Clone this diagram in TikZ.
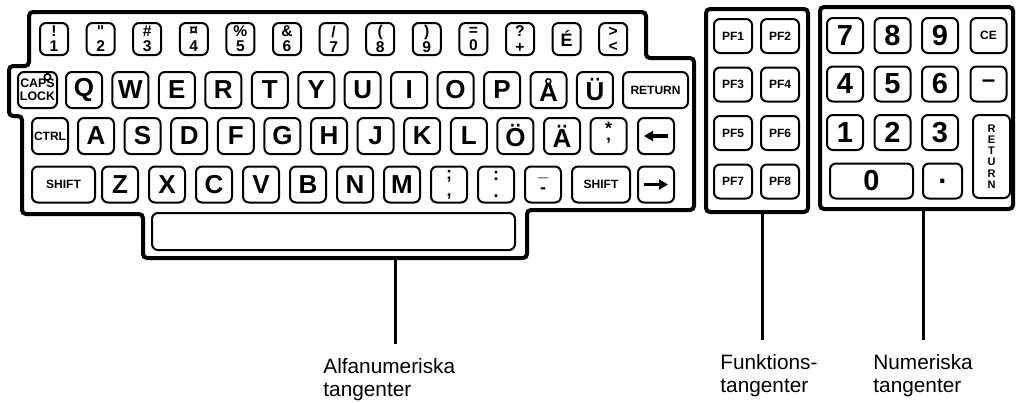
\documentclass[tikz,border=0pt]{standalone}
\usepackage{fontspec}
\setmainfont{Liberation Sans}
\usetikzlibrary{arrows.meta}

\tikzset{
  kbkey/.style={draw, line width=1pt, rounded corners=3pt, inner sep=0pt, align=center,
    minimum width=18pt, minimum height=18pt, font=\bfseries\fontsize{13}{13}\selectfont},
  digkey/.style={kbkey, minimum width=14pt, minimum height=16pt,
    font=\bfseries\fontsize{7.8}{7.6}\selectfont},
  smallkey/.style={kbkey, font=\bfseries\fontsize{6}{6.5}\selectfont},
  padkey/.style={kbkey, minimum height=17.5pt, font=\bfseries\fontsize{14.5}{14.5}\selectfont},
  block/.style={draw, line width=2pt, rounded corners=2pt, inner sep=0pt},
  leader/.style={line width=1.5pt},
  tagtext/.style={align=left, inner xsep=0pt, inner ysep=7pt, anchor=north west,
    font=\fontsize{10.4}{11.5}\selectfont},
  keyarrow/.style={line width=1.6pt, -{Triangle[length=4.5pt,width=5pt]}},
}

\begin{document}
\begin{tikzpicture}[x=0.5pt, y=-0.5pt]
  \useasboundingbox (0,0) rectangle (1017,402);
  % main keyboard outline
  \draw[line width=2pt, rounded corners=2pt]
    (29,12) -- (646,12) -- (646,58) -- (694,58) -- (694,210) -- (527,210)
    -- (527,258) -- (143,258) -- (143,214) -- (22,214) -- (22,116)
    -- (9,116) -- (9,66) -- (29,66) -- cycle;
  \coordinate (alfaend) at (395,258);

  % number row
  \foreach \s/\d [count=\i from 0] in {!/1,\textquotedbl/2,\#/3,¤/4,\%/5,\&/6,{/}/7,{(}/8,{)}/9,=/0,?/+}
    \node[digkey] (num-\i) at ({54+46.6*\i},39) {\s\\\d};
  \node[digkey, font=\bfseries\fontsize{9}{9}\selectfont] (num-11) at ({54+46.6*11},39) {É};
  \node[digkey] (num-12) at ({54+46.6*12},39) {>\\<};

  % second row
  \node[smallkey, minimum width=19.5pt, font=\bfseries\fontsize{6.2}{6.6}\selectfont]
    (caps) at (37.5,90) {CAPS\\LOCK};
  \draw[line width=0.8pt] ([xshift=5pt,yshift=6.5pt]caps.center) circle (1.6pt);
  \foreach \k [count=\i from 0] in {Q,W,E,R,T,Y,U,I,O,P,Å,Ü}
    \node[kbkey] (q-\i) at ({84+46.45*\i},90) {\k};
  \node[smallkey, minimum width=32.5pt] (ret) at (655.5,90) {RETURN};

  % third row
  \node[smallkey] (ctrl) at (50,136) {CTRL};
  \foreach \k [count=\i from 0] in {A,S,D,F,G,H,J,K,L,Ö,Ä}
    \node[kbkey] (a-\i) at ({96+46.6*\i},136) {\k};
  \node[kbkey, font=\bfseries\fontsize{9}{8}\selectfont] (a-11) at ({96+46.6*11},136) {*\\'};
  \node[kbkey] (larr) at (656,136) {};
  \draw[keyarrow] ([xshift=-3.5pt]larr.east) -- ([xshift=3.5pt]larr.west);

  % fourth row
  \node[smallkey, minimum width=31.5pt] (lshift) at (63.5,184.5) {SHIFT};
  \foreach \k [count=\i from 0] in {Z,X,C,V,B,N,M}
    \node[kbkey] (z-\i) at ({120+47*\i},184.5) {\k};
  \foreach \s/\d [count=\i from 7] in {;/{,},:/.,\_/-}
    \node[kbkey, font=\bfseries\fontsize{9}{8.5}\selectfont] (z-\i) at ({120+47*\i},184.5) {\s\\\d};
  \node[smallkey, minimum width=29pt] (rshift) at (601,184.5) {SHIFT};
  \node[kbkey] (rarr) at (656,184.5) {};
  \draw[keyarrow] ([xshift=3.5pt]rarr.west) -- ([xshift=-3.5pt]rarr.east);

  % space bar
  \node[kbkey, minimum width=181.5pt, minimum height=18.5pt] (space) at (333.5,231.5) {};

  % function keys
  \node[block, minimum width=51pt, minimum height=101.5pt] (pfblock) at (757,110.5) {};
  \foreach \r in {0,...,3}
    \foreach \c in {0,1} {
      \pgfmathtruncatemacro\n{2*\r+\c+1}
      \node[smallkey, minimum width=19pt, minimum height=17pt] (pf\n)
        at ({733+47*\c},{36+48.5*\r}) {PF\n};
    }

  % numeric keypad
  \node[block, minimum width=96.5pt, minimum height=101pt] (numblock) at (916.5,108) {};
  \foreach \d [count=\i from 0] in {7,8,9,4,5,6,1,2,3} {
    \pgfmathtruncatemacro\col{mod(\i,3)}
    \pgfmathtruncatemacro\row{\i/3}
    \node[padkey] (pad-\d) at ({845+47.5*\col},{35.5+48.5*\row}) {\d};
  }
  \node[smallkey, minimum height=17.5pt] (ce) at (988.5,35.5) {CE};
  \node[padkey, font=\bfseries\fontsize{12}{12}\selectfont] (minus) at (988.5,84) {–};
  \node[padkey, minimum width=41.5pt] (pad-0) at (871.5,181) {0};
  \node[padkey, minimum width=19.5pt] (dot) at (942.5,181) {.};
  \node[smallkey, minimum width=18.5pt, minimum height=41.5pt,
    font=\bfseries\fontsize{5.5}{5.6}\selectfont] (enter) at (991.5,156.5) {R\\E\\T\\U\\R\\N};

  % captions and leader lines
  \node[tagtext] (alfa) at (323,344) {Alfanumeriska\\tangenter};
  \node[tagtext] (funk) at (720,340) {Funktions-\\tangenter};
  \node[tagtext] (nume) at (873,340) {Numeriska\\tangenter};
  \draw[leader] (alfaend) -- (alfaend |- alfa.north);
  \draw[leader] ([xshift=2.5pt]pfblock.south) -- ([xshift=2.5pt]pfblock.south |- funk.north);
  \draw[leader] (numblock.south -| nume.north) -- (nume.north);
\end{tikzpicture}
\end{document}
